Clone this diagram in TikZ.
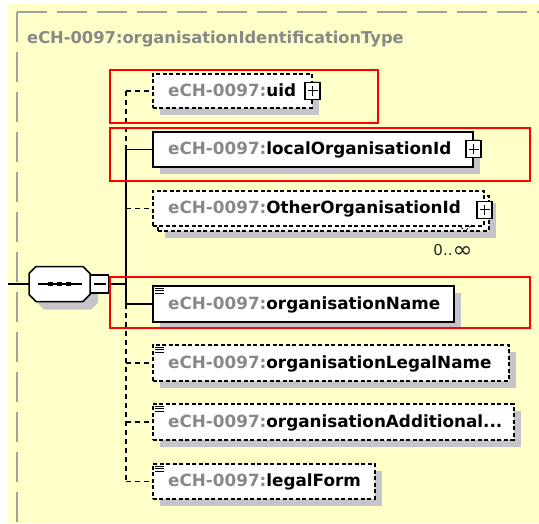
\documentclass[tikz,border=0pt]{standalone}
\usepackage{fontspec}
\usepackage{graphicx}
\setmainfont{DejaVu Sans}
\usetikzlibrary{shadows}
\definecolor{bgyellow}{HTML}{FFFFC8}
\definecolor{bordergray}{HTML}{A0A0A0}
\definecolor{shadowgray}{HTML}{C4C4CA}
\definecolor{pregray}{HTML}{888888}
\newcommand{\echname}[1]{\textcolor{pregray}{eCH-0097:}\textcolor{black}{#1}}
\newcommand{\lineicon}[1]{\draw[line width=1pt] ([shift={(3pt,-3pt)}]#1.north west) -- +(9pt,0pt) ([shift={(3pt,-5.5pt)}]#1.north west) -- +(9pt,0pt) ([shift={(3pt,-8pt)}]#1.north west) -- +(9pt,0pt);}
\begin{document}
\begin{tikzpicture}[x=1pt,y=-1pt,
  elboxns/.style={draw=black, line width=1.5pt, fill=white, rectangle, inner sep=0pt, anchor=north west},
  elbox/.style={elboxns, general shadow={fill=shadowgray, shadow xshift=7pt, shadow yshift=-7pt}},
  optbox/.style={elbox, dash pattern=on 4pt off 2.5pt},
  optboxns/.style={elboxns, dash pattern=on 4pt off 2.5pt},
  eltext/.style={anchor=base west, inner sep=0pt, font=\fontsize{16.8}{18}\selectfont\bfseries},
  conn/.style={draw=black, line width=1.5pt},
  optconn/.style={conn, dash pattern=on 5pt off 4pt},
  plusbox/.style={draw=black, line width=1.3pt, fill=white, minimum width=15pt, minimum height=17pt, inner sep=0pt,
    path picture={\draw[line width=1.3pt] ([xshift=-5pt]path picture bounding box.center) -- ([xshift=5pt]path picture bounding box.center) ([yshift=-5pt]path picture bounding box.center) -- ([yshift=5pt]path picture bounding box.center);}},
  minusbox/.style={draw=black, line width=1.3pt, fill=white, minimum width=18pt, minimum height=18pt, inner sep=0pt,
    path picture={\draw[line width=1.3pt] ([xshift=-6pt]path picture bounding box.center) -- ([xshift=6pt]path picture bounding box.center);}},
  redbox/.style={draw=red, line width=2pt},
]
\useasboundingbox (0,0) rectangle (539,523);
% background
\fill[white] (0,0) rectangle (539,523);
\fill[bgyellow] (8,4) rectangle (539,523);
\draw[bordergray, line width=2pt, dash pattern=on 30pt off 10pt] (17,12) -- (539,12);
\draw[bordergray, line width=2pt, dash pattern=on 30pt off 10pt] (17,12) -- (17,523);
% title
\node[anchor=base west, inner sep=0pt, font=\fontsize{16.3}{18}\selectfont\bfseries, text=pregray] (title) at (27,43) {eCH-0097:organisationIdentificationType};

% spine x position
\coordinate (spx) at (126,0);

% element boxes
\node[optbox, minimum width=159pt, minimum height=34pt] (uid) at (152,73) {};
\node[elbox, minimum width=320pt, minimum height=35pt] (loc) at (152,131) {};
\node[optbox, minimum width=331pt, minimum height=35pt] (othb) at (157,195) {};
\node[optboxns, minimum width=331pt, minimum height=35pt] (othf) at (152,190) {};
\node[elbox, minimum width=301pt, minimum height=36pt] (name) at (152,285) {};
\node[optbox, minimum width=356pt, minimum height=36pt] (legal) at (152,344) {};
\node[optbox, minimum width=361pt, minimum height=36pt] (addl) at (152,403) {};
\node[optbox, minimum width=222pt, minimum height=35pt] (form) at (152,463) {};

% texts
\node[eltext] (uidt) at (168,96) {\echname{uid}};
\node[eltext] (loct) at (168,154.5) {\echname{localOrganisationId}};
\node[eltext] (otht) at (168,213.5) {\echname{OtherOrganisationId}};
\node[eltext] (namet) at (168,309) {\echname{organisationName}};
\node[eltext] (legalt) at (168,368) {\echname{organisationLegalName}};
\node[eltext] (addlt) at (168,427) {\echname{organisationAdditional...}};
\node[eltext] (formt) at (168,486.5) {\echname{legalForm}};

% plus boxes
\node[plusbox] (uidplus) at (uid.east) {};
\node[plusbox] (locplus) at (loc.east) {};
\node[plusbox] (othplus) at ([yshift=-1.5pt]othf.east) {};

% multiplicity
\draw[line width=0.8pt, dash pattern=on 2pt off 1.5pt] (459,225) -- (465,231) -- (472,225);
\node[anchor=base, inner sep=0pt, font=\fontsize{15}{16}\selectfont, text=black!85] (mult) at (453,255) {0..\raisebox{-2.5pt}{\scalebox{1.6}[1.5]{∞}}};

% icons
\lineicon{name}
\lineicon{legal}
\lineicon{addl}
\lineicon{form}

% sequence compositor
\node[minimum width=61pt, minimum height=35pt, inner sep=0pt] (seq) at (59.5,284) {};
\fill[shadowgray] (44,274.5) -- (91,274.5) -- (98,281.5) -- (98,302.5) -- (91,309.5) -- (44,309.5) -- (37,302.5) -- (37,281.5) -- cycle;
\filldraw[fill=white, draw=black, line width=1.5pt] (36,266.5) -- (83,266.5) -- (90,273.5) -- (90,294.5) -- (83,301.5) -- (36,301.5) -- (29,294.5) -- (29,273.5) -- cycle;
\draw[line width=1.5pt] (38,284) -- (82,284);
\fill (48,282) rectangle (53,286.2);
\fill (57,282) rectangle (62,286.2);
\fill (66,282) rectangle (71,286.2);
\node[minusbox, anchor=west] (minus) at (90,284) {};
\coordinate (inl) at (8,284);
\draw[conn] (inl) -- (seq.west);
\draw[conn] (minus.east) -- (spx |- minus.east);

% spine and connectors
\draw[optconn] (spx |- uid.west) -- (uid.west);
\draw[optconn] (spx |- uid.west) -- (spx |- loc.west);
\draw[conn] (spx |- loc.west) -- (loc.west);
\draw[conn] (spx |- loc.west) -- (spx |- name.west);
\draw[optconn] (spx |- othf.west) -- (othf.west);
\draw[conn] (spx |- name.west) -- (name.west);
\draw[optconn] (spx |- name.west) -- (spx |- form.west);
\draw[optconn] (spx |- legal.west) -- (legal.west);
\draw[optconn] (spx |- addl.west) -- (addl.west);
\draw[optconn] (spx |- form.west) -- (form.west);

% red highlight rectangles
\draw[redbox] (110,70) rectangle (378,123);
\draw[redbox] (110,128) rectangle (530,181);
\draw[redbox] (110,277) rectangle (530,328);
\end{tikzpicture}
\end{document}
